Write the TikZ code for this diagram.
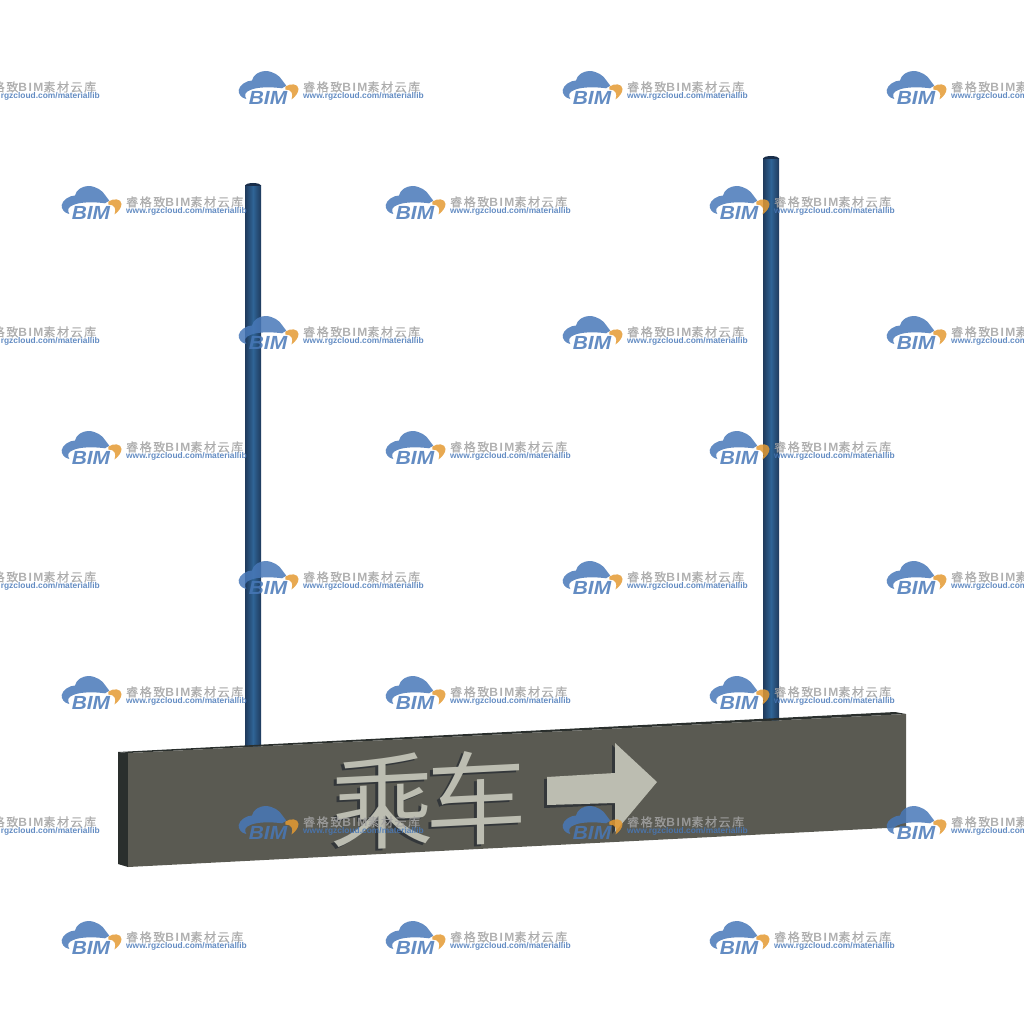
\documentclass[tikz,border=0pt]{standalone}
\usepackage{fontspec}
\setmainfont{Liberation Sans}
\newfontfamily\cjk{Noto Sans CJK SC DemiLight}
\newfontfamily\cjkmark[FakeBold=0.4,LetterSpace=13]{Noto Sans CJK SC}
\newfontfamily\latinmark[LetterSpace=13]{Liberation Sans}
\newfontfamily\bimfont[FakeStretch=1.1]{Liberation Sans}
\definecolor{signface}{HTML}{5A5A52}
\definecolor{signside}{HTML}{2A2F2D}
\definecolor{signtext}{HTML}{BCBDB1}
\definecolor{signshade}{HTML}{33373A}
\definecolor{poledark}{HTML}{1F3A5C}
\definecolor{polemid}{HTML}{2F6496}
\definecolor{markblue}{HTML}{4878B8}
\definecolor{markorange}{HTML}{E49A32}
\definecolor{markgrey}{HTML}{A2A2A2}
\tikzset{
  pole/.style={left color=poledark, right color=poledark, middle color=polemid},
  hanzi/.style={font=\cjk\fontsize{104}{104}\selectfont, inner sep=0pt, yslant=0.05, transform shape},
  hanzismall/.style={hanzi, font=\cjk\fontsize{102}{102}\selectfont},
  marktitle/.style={font=\cjkmark\fontsize{12}{12}\selectfont, text=markgrey, inner sep=0pt, anchor=west},
  markurl/.style={font=\bfseries\fontsize{8.4}{9}\selectfont, text=markblue, inner sep=0pt, anchor=west},
  markbim/.style={font=\bimfont\bfseries\itshape\fontsize{19}{19}\selectfont, text=markblue, inner sep=0pt},
}
\newcommand{\bimmark}[3]{%
  \begin{scope}[shift={(#2,#3)}, opacity=0.85]
    \fill[markblue] (0.7,2) .. controls (1.5,-2.5) and (8,-7.5) .. (14,-7.5)
      .. controls (15,-13.5) and (22,-17) .. (27.3,-17)
      .. controls (35,-17) and (42,-12) .. (44,-8)
      -- (48.3,-2.3) -- (44,0.3) .. controls (35,-1) and (20,-1.5) .. (12.3,2)
      .. controls (7,4) and (6,7) .. (8.3,11) .. controls (3,10) and (0.3,6) .. (0.7,2) -- cycle;
    \fill[markorange] (47.3,-1.3) .. controls (52,-5) and (60.5,-4.5) .. (60.5,1)
      .. controls (60.5,5) and (57,9) .. (53.5,11.5) .. controls (55.5,6) and (54,1.5) .. (47.3,1.5) -- cycle;
    \node[markbim] at (30,10) (#1bim) {BIM};
    \node[marktitle] at (65,-1) (#1title) {睿格致{\latinmark\bfseries BIM}素材云库};
    \node[markurl] at (65,8.5) (#1url) {www.rgzcloud.com/materiallib};
  \end{scope}}

\begin{document}
\begin{tikzpicture}[x=1pt, y=-1pt]
  \useasboundingbox (0,0) rectangle (1024,1024);
  \clip (0,0) rectangle (1024,1024);

  % Poles
  \shade[pole] (245,186) rectangle (261,748);
  \shade[pole] (763,159) rectangle (779,721);
  \fill[poledark!80!black] (245,186) .. controls (245,182) and (261,182) .. (261,186) -- cycle;
  \fill[poledark!80!black] (763,159) .. controls (763,155) and (779,155) .. (779,159) -- cycle;

  % Sign board
  \fill[signside] (118,752) -- (895,712) -- (906,714) -- (128,753) -- cycle;
  \fill[signside] (118,752) -- (128,753) -- (128,867) -- (118,864) -- cycle;
  \fill[signface] (128,753) -- (906,714) -- (906,827) -- (128,867) -- cycle;

  % Lettering
  \node[hanzi, text=signshade] at (379,804) (chengshade) {乘};
  \node[hanzismall, text=signshade] at (473,800) (cheshade) {车};
  \node[hanzi, text=signtext] at (382,802) (cheng) {乘};
  \node[hanzismall, text=signtext] at (476,798) (che) {车};

  % Arrow
  \fill[signshade] (544,779) -- (612,775) -- (612,745) -- (654,784) -- (612,834) -- (612,805) -- (544,808) -- cycle;
  \fill[signtext] (547,777) -- (615,773) -- (615,743) -- (657,782) -- (615,832) -- (615,803) -- (547,805) -- cycle;

  % Watermarks
  \foreach \y [count=\r] in {88,333,578,823}
    \foreach \x [count=\c] in {-86,238,562,886}
      \bimmark{a\r\c}{\x}{\y};
  \foreach \y [count=\r] in {203,448,693,938}
    \foreach \x [count=\c] in {61,385,709}
      \bimmark{b\r\c}{\x}{\y};
\end{tikzpicture}
\end{document}
